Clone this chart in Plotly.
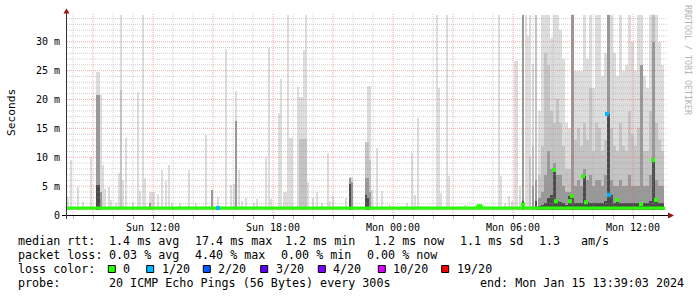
import plotly.graph_objects as go
import datetime as dt

# ---------------- data ----------------
# sparse smoke columns: time, max ping, and darker inner quantile tops (ms); 0 = none
ev_time = [
    "2024-01-14 07:45", "2024-01-14 07:54", "2024-01-14 08:15", "2024-01-14 08:30", "2024-01-14 08:54",
    "2024-01-14 09:12", "2024-01-14 09:18", "2024-01-14 09:24", "2024-01-14 09:30", "2024-01-14 09:36",
    "2024-01-14 09:48", "2024-01-14 09:54", "2024-01-14 10:09", "2024-01-14 10:18", "2024-01-14 10:24",
    "2024-01-14 10:30", "2024-01-14 10:39", "2024-01-14 11:00", "2024-01-14 11:15", "2024-01-14 11:21",
    "2024-01-14 11:30", "2024-01-14 11:36", "2024-01-14 11:51", "2024-01-14 11:57", "2024-01-14 12:03",
    "2024-01-14 12:15", "2024-01-14 12:27", "2024-01-14 12:39", "2024-01-14 12:48", "2024-01-14 12:57",
    "2024-01-14 13:21", "2024-01-14 13:48", "2024-01-14 14:09", "2024-01-14 14:39", "2024-01-14 14:57",
    "2024-01-14 15:15", "2024-01-14 15:39", "2024-01-14 15:54", "2024-01-14 16:03", "2024-01-14 16:09",
    "2024-01-14 16:18", "2024-01-14 16:27", "2024-01-14 16:39", "2024-01-14 17:03", "2024-01-14 17:12",
    "2024-01-14 17:39", "2024-01-14 17:48", "2024-01-14 17:54", "2024-01-14 18:18", "2024-01-14 18:24",
    "2024-01-14 18:33", "2024-01-14 18:39", "2024-01-14 18:45", "2024-01-14 18:51", "2024-01-14 18:57",
    "2024-01-14 19:15", "2024-01-14 19:21", "2024-01-14 19:27", "2024-01-14 19:33", "2024-01-14 19:39",
    "2024-01-14 19:45", "2024-01-14 20:00", "2024-01-14 20:12", "2024-01-14 20:27", "2024-01-14 20:45",
    "2024-01-14 20:51", "2024-01-14 21:00", "2024-01-14 21:39", "2024-01-14 21:51", "2024-01-14 21:57",
    "2024-01-14 22:39", "2024-01-14 22:45", "2024-01-14 22:51", "2024-01-14 22:57", "2024-01-14 23:12",
    "2024-01-14 23:27", "2024-01-14 23:51",
    "2024-01-15 00:42", "2024-01-15 00:57", "2024-01-15 01:06", "2024-01-15 01:15", "2024-01-15 02:12",
    "2024-01-15 02:18", "2024-01-15 02:24", "2024-01-15 02:42", "2024-01-15 02:48", "2024-01-15 03:36",
    "2024-01-15 04:21", "2024-01-15 05:18", "2024-01-15 05:24", "2024-01-15 05:36", "2024-01-15 05:48",
    "2024-01-15 05:57", "2024-01-15 06:06", "2024-01-15 06:12", "2024-01-15 06:21", "2024-01-15 06:30",
    "2024-01-15 06:39", "2024-01-15 06:45", "2024-01-15 06:51", "2024-01-15 07:00", "2024-01-15 07:09",
]
ev_max = [
    3.2, 9.5, 4.9, 2.3, 10.0,
    24.8, 24.8, 20.8, 8.6, 4.5,
    4.9, 2.6, 2.1, 7.3, 34.6,
    6.1, 13.3, 2.2, 21.3, 4.1,
    34.6, 6.4, 4.0, 4.0, 4.0,
    3.6, 7.8, 5.9, 8.6, 2.0,
    2.0, 7.8, 2.0, 13.8, 4.3,
    3.2, 28.7, 5.2, 5.3, 21.4,
    7.8, 2.5, 3.0, 2.0, 2.8,
    10.1, 29.0, 2.8, 17.6, 23.5,
    3.9, 3.9, 34.6, 13.3, 13.3,
    22.1, 20.5, 20.5, 28.5, 34.6,
    5.7, 3.0, 4.0, 2.0, 10.8,
    2.5, 3.3, 3.0, 6.6, 6.6,
    12.7, 22.3, 22.3, 4.4, 11.6,
    4.2, 1.8,
    2.0, 10.7, 3.5, 16.8, 34.6,
    22.0, 3.8, 34.6, 6.7, 1.8,
    1.8, 34.6, 6.7, 2.0, 3.3,
    2.5, 26.7, 26.7, 5.0, 34.6,
    34.6, 31.0, 34.6, 26.2, 34.6,
]
ev_q2 = [
    0, 0, 0, 0, 0,
    20.8, 20.8, 0, 0, 0,
    0, 0, 0, 0, 21.6,
    0, 0, 0, 0, 0,
    0, 0, 0, 0, 0,
    0, 0, 0, 0, 0,
    0, 0, 0, 0, 0,
    0, 0, 0, 0, 0,
    0, 0, 0, 0, 0,
    0, 0, 0, 0, 0,
    0, 0, 0, 0, 0,
    0, 13.1, 13.1, 13.1, 13.1,
    0, 0, 0, 0, 0,
    0, 0, 0, 0, 0,
    12.7, 12.7, 9.5, 0, 0,
    0, 0,
    0, 0, 0, 0, 0,
    0, 0, 0, 0, 0,
    0, 0, 0, 0, 0,
    0, 0, 0, 0, 34.6,
    0, 0, 10.0, 12.0, 34.6,
]
ev_q3 = [
    0, 0, 0, 0, 0,
    20.8, 20.8, 4.0, 0, 0,
    0, 0, 0, 0, 0,
    0, 0, 0, 0, 0,
    0, 0, 2.0, 0, 0,
    0, 0, 0, 0, 0,
    0, 0, 0, 0, 4.3,
    0, 0, 0, 0, 16.2,
    0, 0, 0, 0, 0,
    0, 0, 0, 0, 0,
    0, 0, 0, 0, 0,
    0, 0, 0, 0, 0,
    0, 0, 0, 0, 0,
    0, 0, 0, 6.4, 5.8,
    6.4, 6.4, 4.0, 0, 0,
    0, 0,
    0, 0, 0, 0, 0,
    0, 0, 0, 0, 0,
    0, 0, 0, 0, 0,
    0, 0, 0, 0, 34.6,
    0, 0, 0, 5.0, 6.0,
]
ev_q4 = [
    0, 0, 0, 0, 0,
    5.2, 5.2, 0, 0, 0,
    0, 0, 0, 0, 0,
    0, 0, 0, 0, 0,
    0, 0, 0, 0, 0,
    0, 0, 0, 0, 0,
    0, 0, 0, 0, 0,
    0, 0, 0, 0, 0,
    0, 0, 0, 0, 0,
    0, 0, 0, 0, 0,
    0, 0, 0, 0, 0,
    0, 0, 0, 0, 0,
    0, 0, 0, 0, 0,
    0, 0, 0, 5.4, 0,
    3.5, 3.0, 0, 0, 0,
    0, 0,
    0, 0, 0, 0, 0,
    0, 0, 0, 0, 0,
    0, 0, 0, 0, 0,
    0, 0, 0, 0, 2.5,
    0, 0, 0, 0, 2.5,
]

# dense smoke (busy Monday morning), 9-minute columns
dn_time = [
    "2024-01-15 07:18", "2024-01-15 07:27", "2024-01-15 07:36", "2024-01-15 07:45", "2024-01-15 07:54",
    "2024-01-15 08:03", "2024-01-15 08:12", "2024-01-15 08:21", "2024-01-15 08:30", "2024-01-15 08:39",
    "2024-01-15 08:48", "2024-01-15 08:57", "2024-01-15 09:06", "2024-01-15 09:15", "2024-01-15 09:24",
    "2024-01-15 09:33", "2024-01-15 09:42", "2024-01-15 09:51", "2024-01-15 10:00", "2024-01-15 10:09",
    "2024-01-15 10:18", "2024-01-15 10:27", "2024-01-15 10:36", "2024-01-15 10:45", "2024-01-15 10:54",
    "2024-01-15 11:03", "2024-01-15 11:12", "2024-01-15 11:21", "2024-01-15 11:30", "2024-01-15 11:39",
    "2024-01-15 11:48", "2024-01-15 11:57", "2024-01-15 12:06", "2024-01-15 12:15", "2024-01-15 12:24",
    "2024-01-15 12:33", "2024-01-15 12:42", "2024-01-15 12:51", "2024-01-15 13:00", "2024-01-15 13:09",
    "2024-01-15 13:18", "2024-01-15 13:27",
]
dn_max = [18, 34.6, 34.6, 34.6, 30.6, 34.6, 34.6, 32, 27, 16, 15, 34.6, 25, 25, 25, 34.6, 27, 34.6,
          22, 34.6, 34.6, 24, 28, 34.6, 34.6, 28, 24, 34.6, 25, 26, 34.6, 30, 25, 34.6, 34.6, 24,
          22, 34.6, 34.6, 34.6, 30, 26]
dn_q2 = [7, 12, 28, 26, 18, 16, 20, 16, 12, 8, 8, 24, 13, 15, 12, 16, 13, 22,
         11, 16, 15, 11, 13, 34.6, 15, 12, 11, 16, 12, 11, 18, 14, 12, 15, 26, 11,
         11, 18, 34.6, 16, 13, 11]
dn_q3 = [3, 4, 7, 11, 8, 9, 7, 7, 5, 4, 4, 34.6, 5, 6, 5, 8, 6, 7,
         5, 6, 6, 5, 7, 34.6, 6, 5, 5, 6, 5, 5, 7, 5, 5, 5, 26, 5,
         5, 7, 30, 6, 5, 5]
dn_q4 = [1.6, 1.8, 2, 3, 3.5, 7.8, 2.5, 2.2, 2, 1.8, 3.3, 3.3, 2, 2, 2, 6.7, 2.2, 2,
         2, 2, 2, 2, 2.5, 17.5, 3.5, 2, 2.6, 2, 2, 2, 2, 2, 2, 2, 2, 2,
         2, 2.5, 9.5, 2.6, 2, 2]

# median rtt baseline and off-baseline median steps (loss count out of 20)
med_time = ["2024-01-14 07:42", "2024-01-15 04:15", "2024-01-15 04:24", "2024-01-15 13:36"]
med_val = [1.2, 1.6, 1.2, 1.2]
pt_time = ["2024-01-14 15:15", "2024-01-15 06:30", "2024-01-15 08:03", "2024-01-15 08:09",
           "2024-01-15 08:51", "2024-01-15 08:57", "2024-01-15 09:30", "2024-01-15 09:39",
           "2024-01-15 10:42", "2024-01-15 10:48", "2024-01-15 11:12", "2024-01-15 12:24",
           "2024-01-15 13:00", "2024-01-15 13:09"]
pt_val = [1.2, 1.8, 7.8, 2.4, 2.4, 3.3, 6.7, 2.2, 17.5, 3.5, 2.6, 1.9, 9.5, 2.6]
pt_loss = [1, 0, 0, 0, 0, 0, 0, 0, 1, 1, 0, 0, 0, 0]

loss_labels = ["0", "1/20", "2/20", "3/20", "4/20", "10/20", "19/20"]
loss_colors = ["#26ff00", "#00b8ff", "#0059ff", "#5e00ff", "#7e00ff", "#dd00ff", "#ff0000"]

x_ticks = ["2024-01-14 12:00", "2024-01-14 18:00", "2024-01-15 00:00", "2024-01-15 06:00", "2024-01-15 12:00"]
x_tick_text = ["Sun 12:00", "Sun 18:00", "Mon 00:00", "Mon 06:00", "Mon 12:00"]
y_ticks = [0, 5, 10, 15, 20, 25, 30]
y_tick_text = ["0", "5 m", "10 m", "15 m", "20 m", "25 m", "30 m"]

stats_rtt = ["median rtt:", "1.4 ms avg", "17.4 ms max", "1.2 ms min", "1.2 ms now", "1.1 ms sd", "1.3", "am/s"]
stats_loss = ["packet loss:", "0.03 % avg", "4.40 % max", "0.00 % min", "0.00 % now"]
probe_text = ["probe:", "20 ICMP Echo Pings (56 Bytes) every 300s", "end: Mon Jan 15 13:39:03 2024"]

# ---------------- figure ----------------
W, H = 697, 297
L, R, T, B = 67, 665, 14, 215
X0, X1 = "2024-01-14 07:42", "2024-01-15 13:36"
YMAX = 34.8
BASE = 0.9
MONO = "DejaVu Sans Mono"
shades = ["#dddddd", "#c4c4c4", "#999999", "#4a4a4a"]
GRID_MINOR = "rgba(150,150,150,0.45)"
GRID_MAJOR = "rgba(230,100,100,0.55)"


def px(x):
    return (x - L) / (R - L)


def py(y):
    return (B - y) / (B - T)


fig = go.Figure()


def add_smoke(times, levels, width_ms):
    for lev, col in zip(levels, shades):
        hs = [v - BASE if v > 0 else None for v in lev]
        fig.add_trace(go.Bar(x=times, y=hs, base=BASE, width=width_ms,
                             marker=dict(color=col, line=dict(width=0)),
                             showlegend=False, hoverinfo="skip"))


add_smoke(ev_time, [ev_max, ev_q2, ev_q3, ev_q4], 6 * 60000)
add_smoke(dn_time, [dn_max, dn_q2, dn_q3, dn_q4], 9 * 60000)

fig.add_trace(go.Scatter(x=med_time, y=med_val, mode="lines", line=dict(color=loss_colors[0], width=3.2, shape="hv"),
                         showlegend=False, hoverinfo="skip"))
fig.add_trace(go.Scatter(x=pt_time, y=pt_val, mode="markers",
                         marker=dict(symbol="square", size=4, color=[loss_colors[l] for l in pt_loss], line=dict(width=0)),
                         showlegend=False, hoverinfo="skip"))

shapes = []
# grid (semi-transparent, drawn above the smoke as rrdtool does)
t = dt.datetime(2024, 1, 14, 8, 0)
tend = dt.datetime(2024, 1, 15, 13, 36)
while t <= tend:
    major = t.hour % 3 == 0
    shapes.append(dict(type="line", xref="x", yref="paper", x0=t, x1=t, y0=0, y1=1, layer="above",
                       line=dict(color=GRID_MAJOR if major else GRID_MINOR, width=1, dash="1px,1px")))
    t += dt.timedelta(hours=1)
for v in range(1, 35):
    major = v % 5 == 0
    shapes.append(dict(type="line", xref="paper", yref="y", x0=0, x1=1.004, y0=v, y1=v, layer="above",
                       line=dict(color=GRID_MAJOR if major else GRID_MINOR, width=1, dash="1px,1px")))
# axes lines and arrows
shapes.append(dict(type="line", xref="paper", yref="paper", x0=px(62), x1=px(669), y0=py(215.5), y1=py(215.5),
                   line=dict(color="#000000", width=1), layer="above"))
shapes.append(dict(type="line", xref="paper", yref="paper", x0=px(66.5), x1=px(66.5), y0=py(219), y1=py(12),
                   line=dict(color="#333333", width=1), layer="above"))
shapes.append(dict(type="path", xref="paper", yref="paper", layer="above",
                   path=f"M {px(63.5)} {py(13.5)} L {px(69.5)} {py(13.5)} L {px(66.5)} {py(8.5)} Z",
                   fillcolor="#991111", line=dict(width=0)))
shapes.append(dict(type="path", xref="paper", yref="paper", layer="above",
                   path=f"M {px(668)} {py(212.5)} L {px(668)} {py(218.5)} L {px(674)} {py(215.5)} Z",
                   fillcolor="#991111", line=dict(width=0)))

annotations = []


def text_at(x, y, s, size=11.7, color="#000000", anchor="left"):
    annotations.append(dict(xref="paper", yref="paper", x=px(x), y=py(y), text=s.replace(" ", "\u00a0"),
                            showarrow=False, xanchor=anchor, yanchor="middle",
                            font=dict(family=MONO, size=size, color=color)))


rtt_x = [16, 107.3, 192.7, 282.7, 372.3, 458.3, 536.7, 579.3]
for xx, s in zip(rtt_x, stats_rtt):
    text_at(xx, 241, s)
loss_x = [16, 107.3, 192.7, 279.3, 365]
for xx, s in zip(loss_x, stats_loss):
    text_at(xx, 255, s)
text_at(16, 269, "loss color:")
sq_x = [108.3, 146.7, 203.3, 260.7, 318.3, 378.3, 441.7]
for xx, lab, col in zip(sq_x, loss_labels, loss_colors):
    shapes.append(dict(type="rect", xref="paper", yref="paper", x0=px(xx), x1=px(xx + 7), y0=py(265.5), y1=py(272.5),
                       fillcolor=col, line=dict(color="#000000", width=1)))
    text_at(xx + 13, 269, lab)
probe_x = [16, 107.3, 478.3]
for xx, s in zip(probe_x, probe_text):
    text_at(xx, 283, s)

annotations.append(dict(xref="paper", yref="paper", x=px(11), y=py(113), text="Seconds", textangle=-90,
                        showarrow=False, xanchor="center", yanchor="middle",
                        font=dict(family=MONO, size=11.2, color="#000000")))
annotations.append(dict(xref="paper", yref="paper", x=px(688), y=py(60), text="RRDTOOL / TOBI OETIKER", textangle=90,
                        showarrow=False, xanchor="center", yanchor="middle",
                        font=dict(family=MONO, size=8.3, color="#b4b4b4")))

fig.update_layout(
    width=W, height=H, margin=dict(l=L, r=W - R, t=T, b=H - B),
    paper_bgcolor="#ffffff", plot_bgcolor="#ffffff",
    barmode="overlay", bargap=0, showlegend=False,
    shapes=shapes, annotations=annotations,
    xaxis=dict(type="date", range=[X0, X1], showgrid=False, zeroline=False, showline=False,
               tickvals=x_ticks, ticktext=x_tick_text, ticks="outside", ticklen=3, tickcolor="#999999",
               tickfont=dict(family=MONO, size=10, color="#000000"),
               minor=dict(dtick=3600000, tick0="2024-01-14 00:00", ticks="outside", ticklen=3,
                          tickcolor="#bbbbbb", showgrid=False)),
    yaxis=dict(range=[0, YMAX], showgrid=False, zeroline=False, showline=False,
               tickvals=y_ticks, ticktext=y_tick_text, ticks="", ticklabelstandoff=6,
               tickfont=dict(family=MONO, size=10, color="#000000")),
)

fig.write_html("out.html")
